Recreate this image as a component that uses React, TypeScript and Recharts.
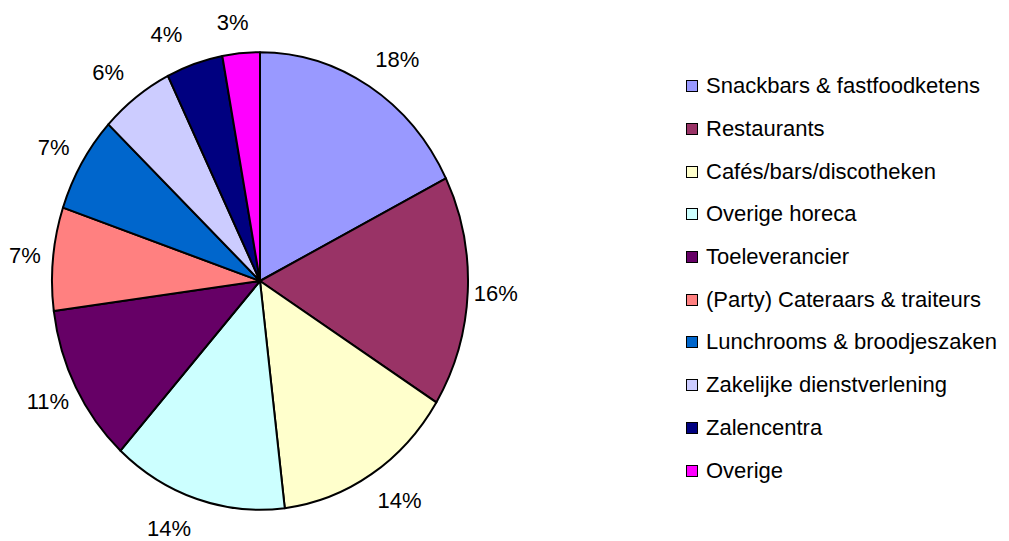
import React from 'react';
import { PieChart, Pie, Cell, Legend } from 'recharts';

const categories = [
  'Snackbars & fastfoodketens',
  'Restaurants',
  'Cafés/bars/discotheken',
  'Overige horeca',
  'Toeleverancier',
  '(Party) Cateraars & traiteurs',
  'Lunchrooms & broodjeszaken',
  'Zakelijke dienstverlening',
  'Zalencentra',
  'Overige',
];
const shares = [17.6, 16.3, 14.2, 13.6, 11.2, 7.3, 6.8, 5.7, 4.4, 2.9];
const colors = ['#9999FF', '#993366', '#FFFFCC', '#CCFFFF', '#660066', '#FF8080', '#0066CC', '#CCCCFF', '#000080', '#FF00FF'];

const FONT = '"Liberation Sans", Arial, sans-serif';
const Y_STRETCH = 1.1; // the original pie is a bit taller than wide
const RAD = Math.PI / 180;

const data = categories.map((name, i) => ({ name, value: shares[i], fill: colors[i] }));

// elliptical sector instead of the round default
const EllipseSector = (props: any) => {
  const { cx, cy, startAngle, endAngle, outerRadius, fill } = props;
  const rx = outerRadius;
  const ry = outerRadius * Y_STRETCH;
  const x1 = cx + rx * Math.cos(startAngle * RAD);
  const y1 = cy - ry * Math.sin(startAngle * RAD);
  const x2 = cx + rx * Math.cos(endAngle * RAD);
  const y2 = cy - ry * Math.sin(endAngle * RAD);
  const large = Math.abs(endAngle - startAngle) > 180 ? 1 : 0;
  const sweep = startAngle > endAngle ? 1 : 0;
  const d = `M ${cx} ${cy} L ${x1} ${y1} A ${rx} ${ry} 0 ${large} ${sweep} ${x2} ${y2} Z`;
  return <path d={d} fill={fill} stroke="#000" strokeWidth={2} strokeLinejoin="round" />;
};

const renderLabel = (props: any) => {
  const { cx, cy, midAngle, outerRadius, percent } = props;
  const c = Math.cos(midAngle * RAD);
  const s = Math.sin(midAngle * RAD);
  const ex = cx + outerRadius * c;
  const ey = cy - outerRadius * Y_STRETCH * s;
  const x = ex + Math.sign(c) * 28 * Math.min(1, Math.abs(c) * 3.3);
  const y = ey - s * 31;
  return (
    <text x={x} y={y} textAnchor="middle" dominantBaseline="central" fill="#000" fontSize={22} fontFamily={FONT}>
      {`${Math.round(percent * 100)}%`}
    </text>
  );
};

const renderLegend = (props: any) => {
  const { payload = [] } = props;
  const items = [...payload].sort((a: any, b: any) => categories.indexOf(a.value) - categories.indexOf(b.value));
  return (
    <div style={{ fontFamily: FONT, fontSize: 22, color: '#000' }}>
      {items.map((entry: any, i: number) => (
        <div key={i} style={{ height: 42.7, display: 'flex', alignItems: 'center', whiteSpace: 'nowrap' }}>
          <span
            style={{
              display: 'inline-block',
              width: 10,
              height: 10,
              border: '1.5px solid #000',
              background: entry.payload?.fill ?? entry.color,
              marginRight: 8,
            }}
          />
          <span>{entry.value}</span>
        </div>
      ))}
    </div>
  );
};

export default function App() {
  return (
    <div style={{ width: 1009, height: 541, background: '#fff' }}>
      <style>{'body{margin:0}'}</style>
      <PieChart width={1009} height={541} margin={{ top: 0, right: 0, bottom: 0, left: 0 }}>
        <Pie
          data={data}
          dataKey="value"
          nameKey="name"
          cx={260}
          cy={281}
          outerRadius={208}
          startAngle={90}
          endAngle={-270}
          shape={EllipseSector}
          activeShape={EllipseSector}
          label={renderLabel}
          labelLine={false}
          isAnimationActive={false}
        >
          {data.map((d, i) => (
            <Cell key={i} fill={d.fill} />
          ))}
        </Pie>
        <Legend
          layout="vertical"
          align="right"
          verticalAlign="top"
          itemSorter={null}
          content={renderLegend}
          wrapperStyle={{ left: 686, top: 65, width: 320 }}
        />
      </PieChart>
    </div>
  );
}
